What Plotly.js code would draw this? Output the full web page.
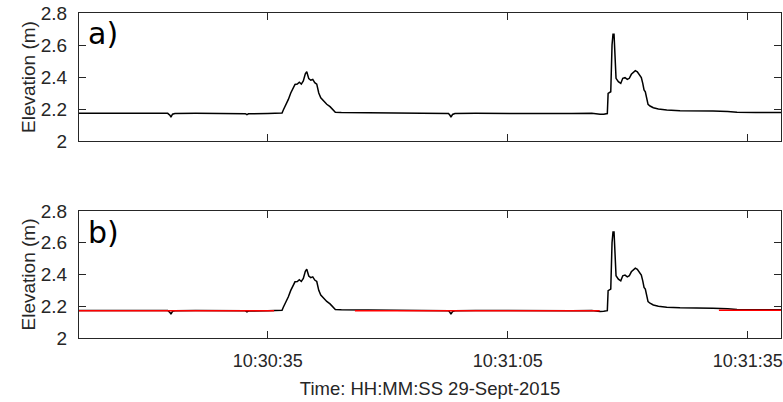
<!DOCTYPE html>
<html>
<head>
<meta charset="utf-8">
<script src="https://cdn.plot.ly/plotly-3.0.1.min.js"></script>
<style>
  html, body { margin: 0; padding: 0; background: #ffffff; }
  #chart { width: 783px; height: 402px; }
</style>
</head>
<body>
<div id="chart"></div>
<script>
// Seconds after 10:30:00 on 29-Sept-2015
var timeSec = [11.4, 14, 17, 20, 22.5, 22.8, 22.9, 23.1, 23.4, 26, 29, 32.2, 32.4, 32.6, 35, 36.5,
  36.79, 36.95, 37.29, 37.58, 37.88, 38.13, 38.41, 38.70, 38.95, 39.20, 39.45, 39.70, 39.88, 40.13,
  40.38, 40.63, 40.88, 41.13, 41.38, 41.63, 41.95, 42.38, 42.79, 43.13, 43.45, 44.2, 45.5, 48, 51,
  54, 57.6, 57.8, 57.9, 58.1, 58.4, 61, 64, 67, 70, 73, 75.5, 76.0, 76.54, 77.0, 77.45, 77.55,
  77.88, 78.04, 78.16, 78.29, 78.41, 78.54, 78.83, 79.13, 79.38, 79.66, 79.95, 80.20, 80.45, 80.70,
  80.95, 81.20, 81.45, 81.70, 81.88, 82.04, 82.20, 82.38, 82.54, 82.79, 83.20, 83.83, 84.88, 86.54,
  88.5, 90.66, 92.5, 93.66, 96, 99.2];

var elevation = [2.173, 2.172, 2.174, 2.172, 2.173, 2.160, 2.150, 2.168, 2.172, 2.173, 2.172, 2.171, 2.165, 2.170, 2.172, 2.172,
  2.175, 2.194, 2.225, 2.26, 2.30, 2.33, 2.354, 2.356, 2.367, 2.356, 2.375, 2.42, 2.433, 2.39,
  2.38, 2.385, 2.365, 2.356, 2.30, 2.27, 2.25, 2.23, 2.215, 2.194, 2.18, 2.178, 2.177, 2.175, 2.173,
  2.172, 2.172, 2.160, 2.150, 2.166, 2.172, 2.173, 2.172, 2.173, 2.172, 2.172, 2.173, 2.168, 2.167, 2.168, 2.172, 2.298,
  2.308, 2.60, 2.667, 2.667, 2.517, 2.392, 2.371, 2.36, 2.392, 2.396, 2.385, 2.392, 2.417, 2.429,
  2.44, 2.433, 2.41, 2.396, 2.36, 2.319, 2.308, 2.256, 2.229, 2.219, 2.208, 2.200, 2.194, 2.190,
  2.190, 2.188, 2.184, 2.180, 2.178, 2.178];

// Red (baseline) segments shown in panel b
var baselineSec = [11.4, 35.8, null, 45.9, 76.5, null, 91.4, 99.2];
var baselineElev = [2.172, 2.172, null, 2.172, 2.172, null, 2.175, 2.175];

var xTickSec = [35, 65, 95];
var xTickLabels = ['10:30:35', '10:31:05', '10:31:35'];
var yTickVals = [2, 2.2, 2.4, 2.6, 2.8];
var yTickLabels = ['2', '2.2', '2.4', '2.6', '2.8'];
var xRangeSec = [11.41, 99.16];
var panelLabels = ['a)', 'b)'];

function toTime(s) {
  if (s === null) return null;
  var m = 30 + Math.floor(s / 60);
  var sec = s - Math.floor(s / 60) * 60;
  var secStr = (sec < 10 ? '0' : '') + sec.toFixed(3);
  return '2015-09-29 10:' + m + ':' + secStr;
}

var tX = timeSec.map(toTime);
var bX = baselineSec.map(toTime);

var axColor = '#262626';
var fam = 'Liberation Sans, Arial, sans-serif';
var xTickFont = {family: fam, size: 18, color: axColor};
var yTickFont = {family: fam, size: 19, color: axColor};

var traces = [
  {x: tX, y: elevation, type: 'scatter', mode: 'lines', xaxis: 'x2', yaxis: 'y2',
   line: {color: '#000000', width: 1.5}, hoverinfo: 'skip'},
  {x: tX, y: elevation, type: 'scatter', mode: 'lines', xaxis: 'x', yaxis: 'y',
   line: {color: '#000000', width: 1.5}, hoverinfo: 'skip'},
  {x: bX, y: baselineElev, type: 'scatter', mode: 'lines', xaxis: 'x', yaxis: 'y',
   line: {color: '#ff0000', width: 1.6}, connectgaps: false, hoverinfo: 'skip'}
];

var xBase = {
  type: 'date',
  range: xRangeSec.map(toTime),
  tickmode: 'array',
  tickvals: xTickSec.map(toTime),
  ticktext: xTickLabels,
  ticks: 'inside', ticklen: 7, tickwidth: 1, tickcolor: axColor,
  showline: true, linecolor: axColor, linewidth: 1, mirror: 'ticks',
  showgrid: false, zeroline: false,
  tickfont: xTickFont, ticklabelstandoff: 6
};
var yBase = {
  range: [2, 2.8],
  tickmode: 'array',
  tickvals: yTickVals,
  ticktext: yTickLabels,
  ticks: 'inside', ticklen: 7, tickwidth: 1, tickcolor: axColor,
  showline: true, linecolor: axColor, linewidth: 1, mirror: 'ticks',
  showgrid: false, zeroline: false,
  tickfont: yTickFont, ticklabelstandoff: 7,
  title: {text: 'Elevation (m)', font: {family: fam, size: 19, color: axColor}, standoff: 0}
};

var layout = {
  width: 783, height: 402,
  margin: {l: 79, r: 2, t: 13, b: 64},
  paper_bgcolor: '#ffffff', plot_bgcolor: '#ffffff',
  showlegend: false,
  xaxis: Object.assign({}, xBase, {anchor: 'y', domain: [0, 1],
    title: {text: 'Time: HH:MM:SS 29-Sept-2015', font: {family: fam, size: 18.5, color: axColor}, standoff: 12}}),
  yaxis: Object.assign({}, yBase, {anchor: 'x', domain: [0, 0.3908]}),
  xaxis2: Object.assign({}, xBase, {anchor: 'y2', domain: [0, 1], showticklabels: false, matches: 'x'}),
  yaxis2: Object.assign({}, yBase, {anchor: 'x2', domain: [0.606, 1]}),
  annotations: [
    {text: panelLabels[0], xref: 'paper', yref: 'y2', x: 0.0095, y: 2.672, xanchor: 'left', yanchor: 'middle',
     showarrow: false, font: {family: 'DejaVu Sans', size: 30, color: '#000000'}},
    {text: panelLabels[1], xref: 'paper', yref: 'y', x: 0.0095, y: 2.664, xanchor: 'left', yanchor: 'middle',
     showarrow: false, font: {family: 'DejaVu Sans', size: 30, color: '#000000'}}
  ]
};

Plotly.newPlot('chart', traces, layout, {staticPlot: true, displayModeBar: false});
</script>
</body>
</html>
